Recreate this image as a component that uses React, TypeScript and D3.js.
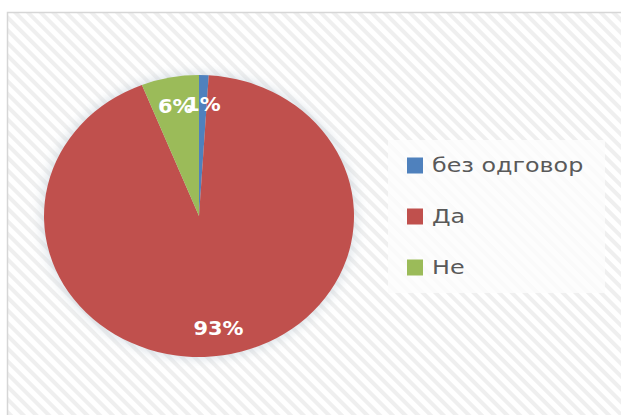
import React from "react";
import * as d3 from "d3";

const categories = ["без одговор", "Да", "Не"];
const values = [1, 93, 6];
const labels = ["1%", "93%", "6%"];
const colors = ["#4F81BD", "#C0504D", "#9BBB59"];

const W = 621;
const H = 415;

export default function App() {
  const cx = 199;
  const cy = 216;
  const ry = 141;
  const rx = 155;
  const sx = rx / ry;

  const pie = d3.pie<number>().sort(null).value((d) => d)(values);
  const arc = d3.arc<d3.PieArcDatum<number>>().innerRadius(0).outerRadius(ry);
  const labelArc = d3.arc<d3.PieArcDatum<number>>().innerRadius(ry * 0.8).outerRadius(ry * 0.8);

  const legendY = d3.scaleBand<string>().domain(categories).range([140, 293]);

  return (
    <svg
      width={W}
      height={H}
      style={{ position: "absolute", left: 0, top: 0 }}
      fontFamily="'DejaVu Sans', sans-serif"
    >
      <defs>
        <pattern id="stripes" width="9" height="9" patternUnits="userSpaceOnUse" patternTransform="rotate(-45)">
          <rect width="9" height="9" fill="#ffffff" />
          <rect width="4" height="9" fill="#efefef" />
        </pattern>
        <filter id="glow" x="-20%" y="-20%" width="140%" height="140%">
          <feGaussianBlur stdDeviation="5" />
        </filter>
      </defs>
      <rect x={0} y={0} width={W} height={H} fill="#ffffff" />
      <rect x={7.5} y={12.5} width={W + 10} height={H + 10} fill="url(#stripes)" stroke="#d6d6d6" strokeWidth={1.5} />
      <rect x={388} y={140} width={217} height={153} fill="#fcfcfc" opacity={0.8} />
      <g transform={`translate(${cx},${cy}) scale(${sx},1)`}>
        <circle r={ry + 3} fill="#c9d3dc" opacity={0.6} filter="url(#glow)" />
        {pie.map((d, i) => (
          <path key={i} d={arc(d) || ""} fill={colors[i]} />
        ))}
      </g>
      {pie.map((d, i) => {
        const [x, y] = labelArc.centroid(d);
        return (
          <text
            key={i}
            transform={`translate(${cx + x * sx},${cy + y + 1}) scale(1.1,1)`}
            textAnchor="middle"
            dominantBaseline="central"
            fill="#ffffff"
            fontWeight="bold"
            fontSize={19}
          >
            {labels[i]}
          </text>
        );
      })}
      {categories.map((c, i) => {
        const y = (legendY(c) || 0) + legendY.bandwidth() / 2;
        return (
          <g key={c}>
            <rect x={407} y={y - 8} width={16} height={16} fill={colors[i]} />
            <text
              transform={`translate(432,${y}) scale(1.19,1)`}
              dominantBaseline="central"
              fontSize={20}
              fill="#595959"
            >
              {c}
            </text>
          </g>
        );
      })}
    </svg>
  );
}
